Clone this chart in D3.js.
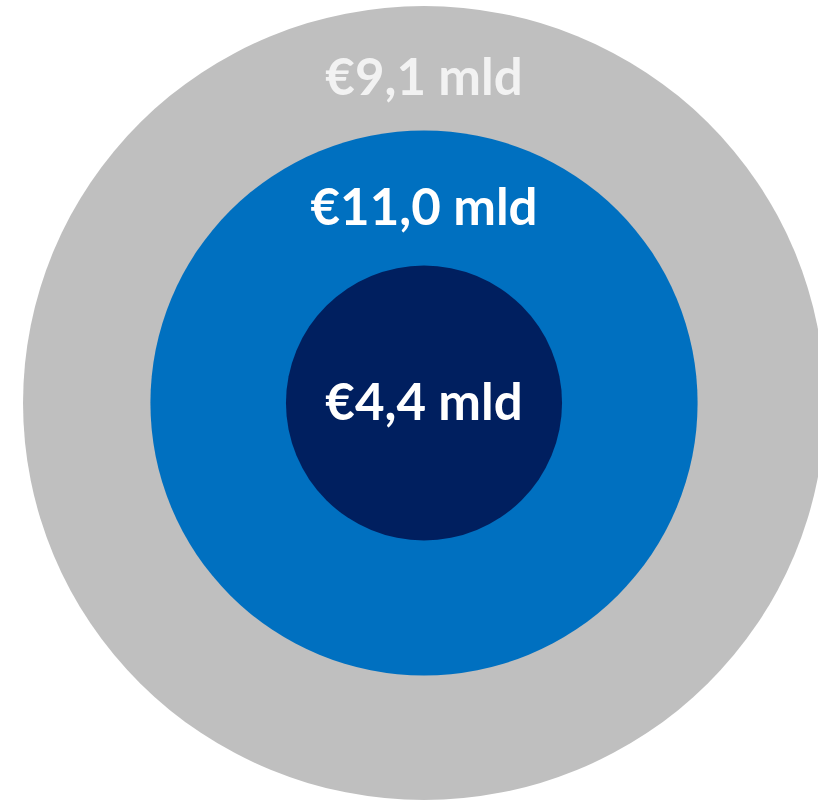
<!DOCTYPE html>
<html>
<head>
<meta charset="utf-8">
<script src="https://cdn.jsdelivr.net/npm/d3@7"></script>
<style>
  body { margin: 0; background: #fff; }
  svg { display: block; }
</style>
</head>
<body>
<div id="chart"></div>
<script>
// rings from outside to inside
let rings = ['outer', 'middle', 'inner'],
    values = [9.1, 11.0, 4.4],
    labels = ['€9,1 mld', '€11,0 mld', '€4,4 mld'];

let width = 818,
    height = 800,
    cx = 424,
    cy = 403;

let color = d3.scaleOrdinal().domain(rings).range(['#bfbfbf', '#0070c0', '#001f5f']);
let textColor = d3.scaleOrdinal().domain(rings).range(['#f2f2f2', '#ffffff', '#ffffff']);
// radius by ring, drawn outside first
let radius = d3.scaleOrdinal().domain(rings).range([397, 272.5, 137.5]);

let svg = d3.select('#chart').append('svg')
    .attr('width', width)
    .attr('height', height);

let g = svg.append('g').attr('transform', 'translate(' + cx + ',' + cy + ')');

g.selectAll('ellipse')
    .data(rings)
    .enter().append('ellipse')
    .attr('rx', d => radius(d) * (d === 'outer' ? 1.01 : 1.004))
    .attr('ry', d => radius(d))
    .attr('fill', d => color(d));

g.selectAll('text')
    .data(rings)
    .enter().append('text')
    .attr('text-anchor', 'middle')
    .attr('dominant-baseline', 'central')
    .attr('x', 0)
    .attr('y', (d, i) => {
        if (i === rings.length - 1) return -3;
        let mid = (radius(d) + radius(rings[i + 1])) / 2;
        return -mid + 7;
    })
    .style('font-family', 'Lato, sans-serif')
    .style('font-weight', 'bold')
    .style('font-size', '51px')
    .style('fill', d => textColor(d))
    .text((d, i) => labels[i]);
</script>
</body>
</html>
